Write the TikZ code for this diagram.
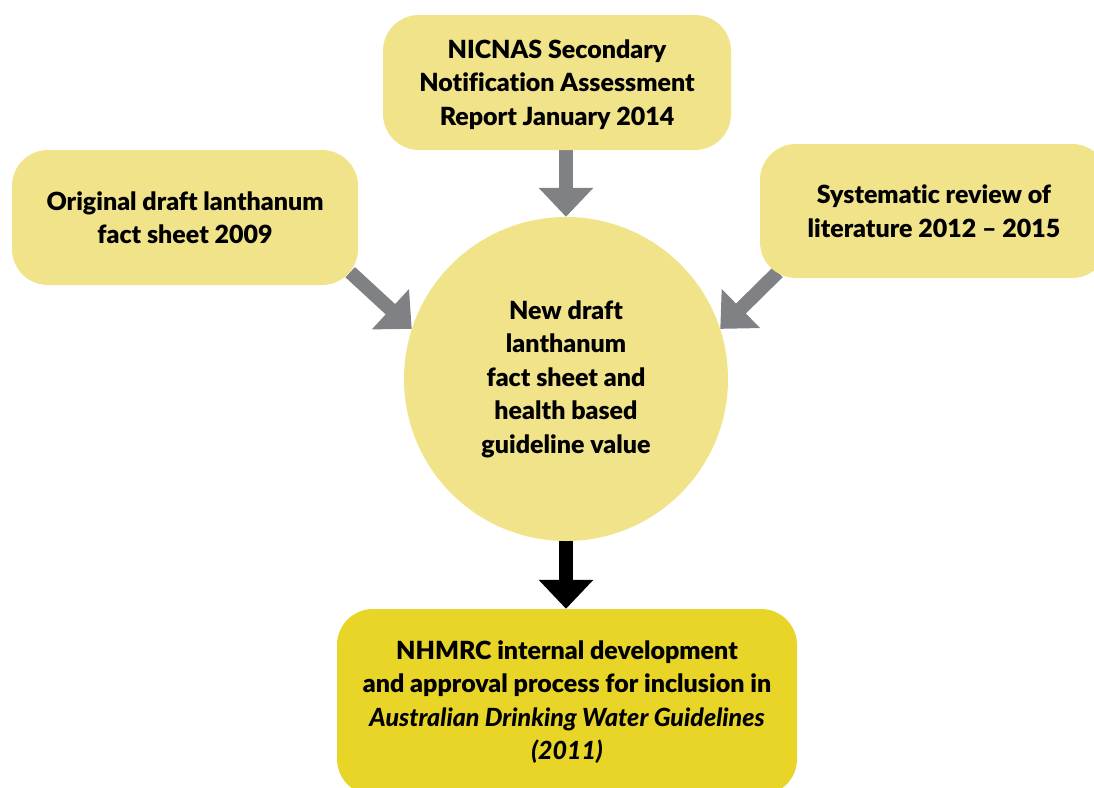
\documentclass[tikz,border=0pt]{standalone}
\usepackage{fontspec}
\setmainfont{Lato}[Ligatures=CommonOff,BoldFont={Lato Black},BoldItalicFont={Lato Black Italic}]
\usetikzlibrary{arrows.meta,backgrounds}
\definecolor{lightyel}{RGB}{241,227,138}
\definecolor{darkyel}{RGB}{232,213,40}
\definecolor{arrgray}{RGB}{128,129,132}
\tikzset{
  box/.style={fill=lightyel,draw=none,rounded corners=36pt,inner sep=0pt,align=center,
    font=\bfseries\fontsize{25}{33.5}\selectfont},
  circbox/.style={circle,fill=lightyel,draw=none,inner sep=0pt,align=center,minimum size=324pt,
    font=\bfseries\fontsize{25}{33.5}\selectfont},
  garrow/.style={draw=arrgray,line width=14pt,-{Triangle[length=29pt,width=53pt]},fill=arrgray},
  barrow/.style={draw=black,line width=14pt,-{Triangle[length=29pt,width=53pt]},fill=black},
}
\begin{document}
\begin{tikzpicture}[x=1pt,y=1pt]
\useasboundingbox (0,0) rectangle (1094,-787);
\clip (0,0) rectangle (1094,-787);
\node[box,minimum width=348pt,minimum height=135pt,text depth=0pt] (top) at (557,-82.5)
  {NICNAS Secondary\\Notification Assessment\\Report January 2014};
\node[box,minimum width=346pt,minimum height=135pt] (lbox) at (185,-217.5)
  {Original draft lanthanum\\fact sheet 2009};
\node[box,minimum width=348pt,minimum height=134pt] (rbox) at (934,-211)
  {Systematic review of\\literature 2012 -- 2015};
\node[circbox] (circ) at (566,-379)
  {New draft\\lanthanum\\fact sheet and\\health based\\guideline value};
\node[box,fill=darkyel,minimum width=460pt,minimum height=186pt] (bot) at (567,-702)
  {NHMRC internal development\\and approval process for inclusion in\\\textit{Australian Drinking Water Guidelines}\\\textit{(2011)}};
\begin{scope}[on background layer]
\draw[garrow] (circ.north |- top.south) -- (circ.north);
\draw[garrow] ([xshift=-8pt,yshift=13pt]lbox.south east) -- (circ.162);
\draw[garrow] ([xshift=18pt,yshift=6pt]rbox.south west) -- (circ.18);
\draw[barrow] (circ.south) -- (circ.south |- bot.north);
\end{scope}
\end{tikzpicture}
\end{document}
